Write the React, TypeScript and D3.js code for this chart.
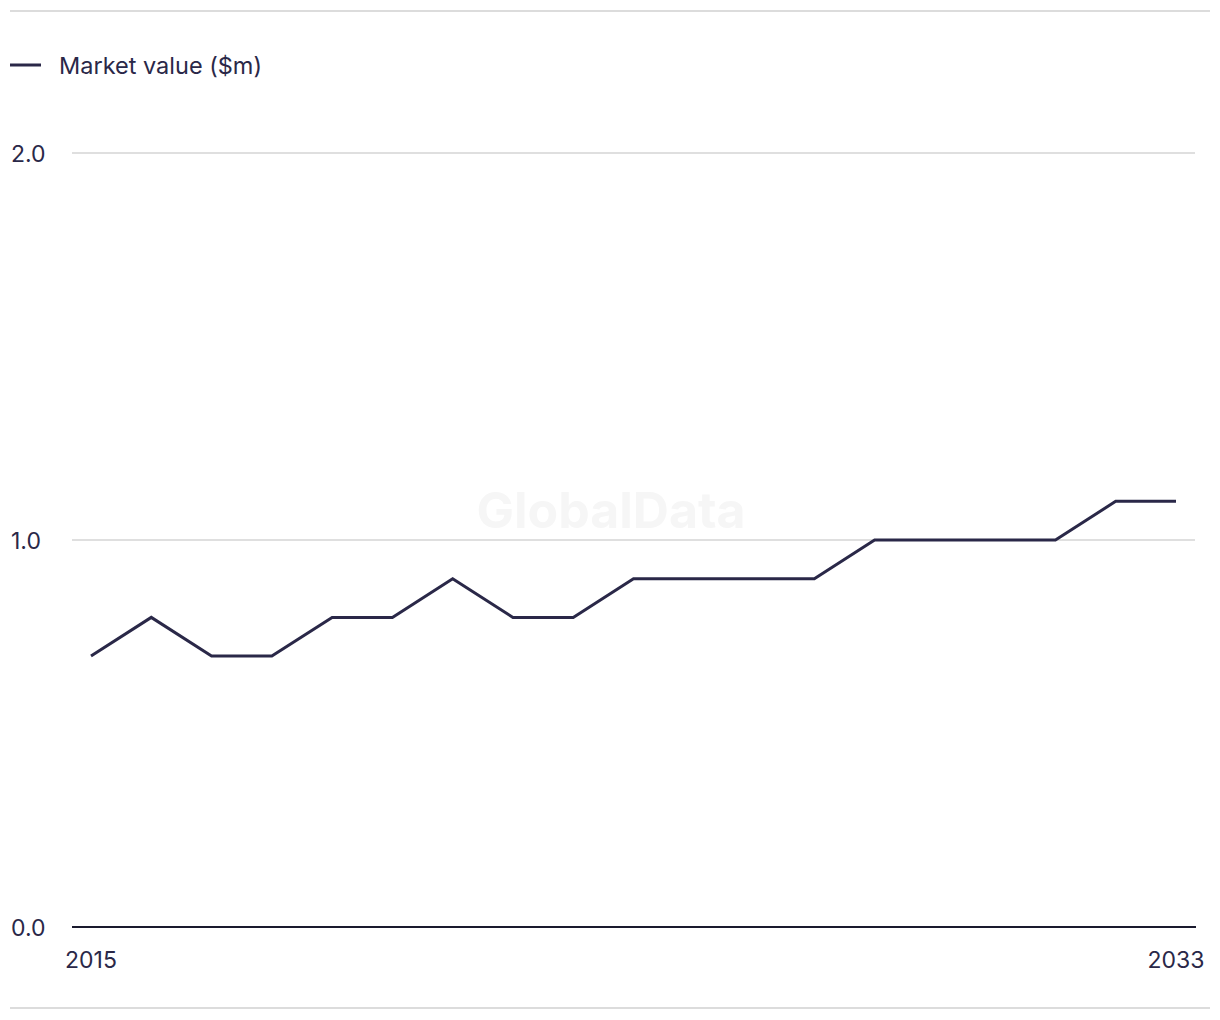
import React from "react";
import * as d3 from "d3";

const years: number[] = [2015, 2016, 2017, 2018, 2019, 2020, 2021, 2022, 2023, 2024, 2025, 2026, 2027, 2028, 2029, 2030, 2031, 2032, 2033];
const marketValue: number[] = [0.7, 0.8, 0.7, 0.7, 0.8, 0.8, 0.9, 0.8, 0.8, 0.9, 0.9, 0.9, 0.9, 1.0, 1.0, 1.0, 1.0, 1.1, 1.1];
const yTicks: number[] = [0, 1, 2];
const xTickLabels: number[] = [2015, 2033];
const seriesName = "Market value ($m)";

const W = 1220;
const H = 1020;
const FONT = "Inter, 'Noto Sans', sans-serif";
const INK = "#2a2848";

export default function App() {
  const x = d3.scaleLinear().domain([2015, 2033]).range([91, 1176]);
  const y = d3.scaleLinear().domain([0, 2]).range([927, 153]);
  const line = d3
    .line<number>()
    .x((_, i) => x(years[i]))
    .y((d) => y(d));

  return (
    <svg
      width={W}
      height={H}
      style={{ position: "absolute", left: 0, top: 0, background: "#fff" }}
      fontFamily={FONT}
    >
      <line x1={10} x2={1210} y1={11} y2={11} stroke="#dcdcdc" strokeWidth={2} />
      <line x1={10} x2={1210} y1={1008} y2={1008} stroke="#dcdcdc" strokeWidth={2} />

      <line x1={10} x2={41} y1={65} y2={65} stroke={INK} strokeWidth={3} />
      <text x={59} y={74} fontSize={23.5} fill={INK}>
        {seriesName}
      </text>

      <text
        x={611}
        y={528}
        textAnchor="middle"
        fontSize={50}
        fontWeight={700}
        fill="#f6f6f6"
      >
        GlobalData
      </text>

      {yTicks.map((t) => (
        <g key={t}>
          {t !== 0 && (
            <line x1={72} x2={1195} y1={y(t)} y2={y(t)} stroke="#d4d4d4" strokeWidth={1.4} />
          )}
          <text x={11} y={y(t) + 8.5} fontSize={23} fill={INK}>
            {d3.format(".1f")(t)}
          </text>
        </g>
      ))}

      <line x1={72} x2={1196} y1={y(0)} y2={y(0)} stroke="#1a1a2e" strokeWidth={2} />

      {xTickLabels.map((yr) => (
        <text key={yr} x={x(yr)} y={968} textAnchor="middle" fontSize={23} fill={INK}>
          {yr}
        </text>
      ))}

      <path d={line(marketValue) || ""} fill="none" stroke={INK} strokeWidth={3} strokeLinejoin="miter" />
    </svg>
  );
}
